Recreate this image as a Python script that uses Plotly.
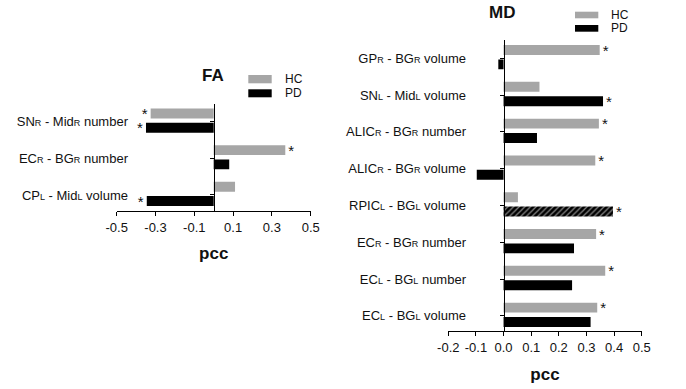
import plotly.graph_objects as go

W, H = 686, 389

def lab(a, sa, b, sb, tail):
    s = "<span style='font-size:9px'>%s</span>"
    return a + (s % sa) + " - " + b + (s % sb) + " " + tail

series_names = ["HC", "PD"]
series_colors = ["#a6a6a6", "#000000"]

# ---- FA panel data ----
fa_categories = [
    lab("SN", "R", "Mid", "R", "number"),
    lab("EC", "R", "BG", "R", "number"),
    lab("CP", "L", "Mid", "L", "volume"),
]
fa_hc = [-0.325, 0.369, 0.110]
fa_pd = [-0.349, 0.080, -0.345]
fa_hc_sig = ["*", "*", ""]
fa_pd_sig = ["*", "", "*"]
fa_ticks = [-0.5, -0.3, -0.1, 0.1, 0.3, 0.5]
fa_ticktext = ["-0.5", "-0.3", "-0.1", "0.1", "0.3", "0.5"]

# ---- MD panel data ----
md_categories = [
    lab("GP", "R", "BG", "R", "volume"),
    lab("SN", "L", "Mid", "L", "volume"),
    lab("ALIC", "R", "BG", "R", "number"),
    lab("ALIC", "R", "BG", "R", "volume"),
    lab("RPIC", "L", "BG", "L", "volume"),
    lab("EC", "R", "BG", "R", "number"),
    lab("EC", "L", "BG", "L", "number"),
    lab("EC", "L", "BG", "L", "volume"),
]
md_hc = [0.348, 0.130, 0.345, 0.332, 0.052, 0.335, 0.368, 0.339]
md_pd = [-0.019, 0.360, 0.121, -0.097, 0.396, 0.255, 0.248, 0.315]
md_hc_sig = ["*", "", "*", "*", "", "*", "*", "*"]
md_pd_sig = ["", "*", "", "", "*", "", "", ""]
md_pd_hatch = ["", "", "", "", "/", "", "", ""]
md_ticks = [-0.2, -0.1, 0.0, 0.1, 0.2, 0.3, 0.4, 0.5]
md_ticktext = ["-0.2", "-0.1", "0.0", "0.1", "0.2", "0.3", "0.4", "0.5"]

FONT = "Liberation Sans, Arial, sans-serif"
TXT = "#111111"

# bar placement inside each category (style)
BAR_W = 0.27
OFFSETS = [-0.36, 0.03]

fig = go.Figure()

def add_bars(vals, sig, color, name, offset, xa, ya, pattern=None):
    n = len(vals)
    marker = dict(color=color, line=dict(width=0))
    if pattern is not None:
        marker["pattern"] = dict(shape=pattern, fillmode="replace", bgcolor="#000000",
                                 fgcolor="#8a8a8a", size=4, solidity=0.3)
    fig.add_trace(go.Bar(
        x=vals, y=list(range(n)), orientation="h", name=name,
        width=BAR_W, offset=offset,
        marker=marker, text=sig, textposition="outside",
        textfont=dict(size=15, color=TXT, family=FONT),
        constraintext="none", cliponaxis=False, showlegend=False,
        hoverinfo="skip",
        xaxis=xa, yaxis=ya,
    ))

add_bars(fa_hc, fa_hc_sig, series_colors[0], series_names[0], OFFSETS[0], "x", "y")
add_bars(fa_pd, fa_pd_sig, series_colors[1], series_names[1], OFFSETS[1], "x", "y3")
add_bars(md_hc, md_hc_sig, series_colors[0], series_names[0], OFFSETS[0], "x2", "y2")
add_bars(md_pd, md_pd_sig, series_colors[1], series_names[1], OFFSETS[1], "x2", "y4", pattern=md_pd_hatch)

# panel geometry in pixels
fa_x0, fa_x1 = 116.7, 310.7
fa_top, fa_bot = 104, 211
md_x0, md_x1 = 448.3, 641.7
md_top, md_bot = 40, 331
fa_range = [2.437, -0.483]
md_range = [7.41, -0.497]

def zero_pos(x0, x1, lo, hi):
    return (x0 + (0 - lo) / (hi - lo) * (x1 - x0)) / W

xcommon = dict(showgrid=False, zeroline=False, showline=True, linecolor="black", linewidth=1,
               ticks="outside", ticklen=4, tickwidth=1, tickcolor="black", automargin=False,
               tickfont=dict(size=13, color=TXT, family=FONT), tickmode="array")
ycommon = dict(showgrid=False, zeroline=False, showline=False, ticks="", automargin=False,
               tickfont=dict(size=13, color=TXT, family=FONT), tickmode="array", anchor="free")
zcommon = dict(showgrid=False, zeroline=False, showline=True, linecolor="black", linewidth=1,
               ticks="outside", ticklen=4, tickwidth=1, tickcolor="black", automargin=False,
               showticklabels=False, tickmode="array", anchor="free")

fig.update_layout(
    width=W, height=H, margin=dict(l=0, r=0, t=0, b=0, autoexpand=False),
    paper_bgcolor="white", plot_bgcolor="white",
    barmode="overlay",
    font=dict(family=FONT, color=TXT),
    xaxis=dict(domain=[fa_x0 / W, fa_x1 / W], range=[-0.5, 0.5], anchor="y",
               tickvals=fa_ticks, ticktext=fa_ticktext,
               title=dict(text="<b>pcc</b>", font=dict(size=17, color=TXT, family=FONT), standoff=13),
               **xcommon),
    yaxis=dict(domain=[(H - fa_bot) / H, (H - fa_top) / H], range=fa_range,
               position=128 / W,
               tickvals=list(range(len(fa_categories))), ticktext=fa_categories, **ycommon),
    yaxis3=dict(overlaying="y", range=fa_range,
                position=zero_pos(fa_x0, fa_x1, -0.5, 0.5),
                tickvals=list(range(len(fa_categories))), **zcommon),
    xaxis2=dict(domain=[md_x0 / W, md_x1 / W], range=[-0.2, 0.5], anchor="y2",
                tickvals=md_ticks, ticktext=md_ticktext,
                title=dict(text="<b>pcc</b>", font=dict(size=17, color=TXT, family=FONT), standoff=14),
                **xcommon),
    yaxis2=dict(domain=[(H - md_bot) / H, (H - md_top) / H], range=md_range,
                position=466 / W,
                tickvals=list(range(len(md_categories))), ticktext=md_categories, **ycommon),
    yaxis4=dict(overlaying="y2", range=md_range,
                position=zero_pos(md_x0, md_x1, -0.2, 0.5),
                tickvals=list(range(len(md_categories))), **zcommon),
)

# panel titles
for txt, px, py in [("FA", 213, 75), ("MD", 502, 13)]:
    fig.add_annotation(text="<b>%s</b>" % txt, x=px / W, y=(H - py) / H, xref="paper", yref="paper",
                       showarrow=False, xanchor="center", yanchor="middle",
                       font=dict(size=17, color=TXT, family=FONT))

# legends (swatch + label)
legend_specs = [
    (248.3, 271.7, [(75, 83.3), (89.3, 97.3)], 283),
    (575, 598.3, [(11.7, 18.3), (25, 31.7)], 609),
]
for sx0, sx1, rows, tx in legend_specs:
    for (y0, y1), name, col in zip(rows, series_names, series_colors):
        fig.add_shape(type="rect", xref="paper", yref="paper",
                      x0=sx0 / W, x1=sx1 / W, y0=(H - y1) / H, y1=(H - y0) / H,
                      fillcolor=col, line=dict(width=0))
        fig.add_annotation(text=name, x=tx / W, y=(H - (y0 + y1) / 2) / H, xref="paper", yref="paper",
                           showarrow=False, xanchor="left", yanchor="middle",
                           font=dict(size=12, color=TXT, family=FONT))

fig.write_html("out.html",
               config={"displayModeBar": False},
               post_script="document.body.style.margin='0';document.body.style.overflow='hidden';")
